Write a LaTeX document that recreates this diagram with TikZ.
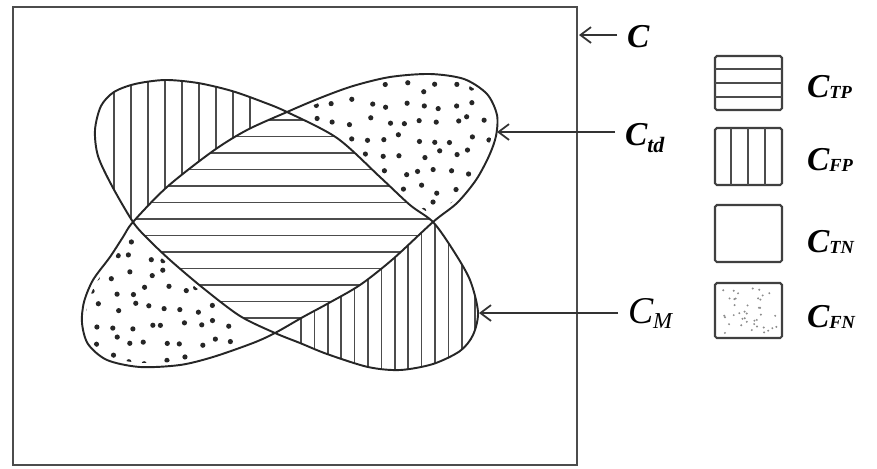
\documentclass[tikz,border=0pt]{standalone}
\usepackage{fontspec}
\setmainfont{Liberation Serif}
\usetikzlibrary{arrows.meta}
\newcommand{\cl}[3]{{\fontsize{19}{22}\selectfont\bfseries\itshape C\raisebox{-#1}{\fontsize{#2}{#2}\selectfont #3}}}
\newcommand{\shapeA}{plot[smooth cycle] coordinates {(133,222) (112,186) (98,156) (95,130) (101,106) (114,92) (135,84) (165,80) (198,83) (232,91) (263,102) (287,112) (337,138) (380,177) (410,205) (433,222) (453,250) (470,280) (478,312) (473,335) (460,351) (433,364) (400,370) (368,367) (327,354) (300,343) (275,333) (240,316) (203,288) (170,260) (147,238)}}
\newcommand{\shapeB}{plot[smooth cycle] coordinates {(133,222) (167,187) (213,151) (247,130) (287,112) (320,98) (353,86) (390,77) (430,74) (464,79) (487,94) (497,115) (496,136) (489,156) (476,180) (457,203) (433,222) (393,259) (360,285) (327,304) (303,317) (275,333) (253,343) (213,357) (180,365) (140,367) (107,360) (88,344) (82,323) (84,302) (93,280) (110,257) (123,237)}}

\begin{document}
\begin{tikzpicture}[x=0.02cm,y=-0.02cm,
  ln/.style={draw=black!85,line width=1.1pt},
  frm/.style={draw=black!70,line width=1.4pt},
  hat/.style={black!70,line width=0.8pt},
  box/.style={draw=black!75,line width=1.2pt,rounded corners=1pt},
  arr/.style={-{Straight Barb[length=6pt,width=9pt]},black!80,line width=1pt},
  lab/.style={anchor=base west,inner sep=5.5pt}]
\useasboundingbox (0,0) rectangle (877,468);
\fill[white] (0,0) rectangle (877,468);
\draw[frm] (13,7) rectangle (577,465);
\begin{scope}
 \clip \shapeA; \clip \shapeB;
 \foreach \y in {120,136.5,...,325} \draw[hat] (100,\y) -- (470,\y);
\end{scope}
\begin{scope}[even odd rule]
 \clip \shapeA; \clip (0,0) rectangle (877,468) \shapeB;
 \foreach \x in {114,131,...,252} \draw[hat] (\x,70) -- (\x,240);
 \foreach \x in {301,314.4,...,476} \draw[hat] (\x,210) -- (\x,380);
\end{scope}
\begin{scope}[even odd rule]
 \clip \shapeB; \clip (0,0) rectangle (877,468) \shapeA;
 \pgfmathsetseed{11}
 \foreach \gx in {80,97,...,500} \foreach \gy in {70,87,...,376} \fill[black!85] ({\gx+5*rand},{\gy+5*rand}) circle (2.6);
 \draw[white,line width=4.5pt] \shapeA; \draw[white,line width=4.5pt] \shapeB;
\end{scope}
\draw[ln] \shapeA; \draw[ln] \shapeB;
\coordinate (pC) at (579,35); \coordinate (pTd) at (497,132); \coordinate (pM) at (479,313);
\node[lab] (lC) at (617,47) {\cl{0pt}{10.5}{}};
\node[lab] (lTd) at (615,145) {\cl{4.5pt}{12.5}{td}};
\node[lab] (lM) at (618,323) {{\fontsize{21.5}{24}\selectfont\itshape C\raisebox{-3pt}{\fontsize{13}{13}\selectfont M}}};
\draw[arr] (lC.west |- pC) -- (pC);
\draw[arr] (lTd.west |- pTd) -- (pTd);
\draw[arr] (lM.west |- pM) -- (pM);
\draw[box] (715,56) rectangle (782,110);
\foreach \y in {69,83,97} \draw[hat] (715,\y) -- (782,\y);
\draw[box] (715,128) rectangle (782,185);
\foreach \x in {731,748,765} \draw[hat] (\x,128) -- (\x,185);
\draw[box] (715,205) rectangle (782,262);
\begin{scope}
 \clip (717,285) rectangle (780,336);
 \pgfmathsetseed{5}
 \foreach \i in {1,...,40} \fill[black!45] ({720+57*rnd},{288+45*rnd}) circle (1.1);
\end{scope}
\draw[box] (715,283) rectangle (782,338);
\node[lab] (lTP) at (797,97) {\cl{1pt}{10.5}{TP}};
\node[lab] (lFP) at (797,170) {\cl{1pt}{10.5}{FP}};
\node[lab] (lTN) at (797,252) {\cl{1pt}{10.5}{TN}};
\node[lab] (lFN) at (797,327) {\cl{1pt}{10.5}{FN}};
\end{tikzpicture}
\end{document}
